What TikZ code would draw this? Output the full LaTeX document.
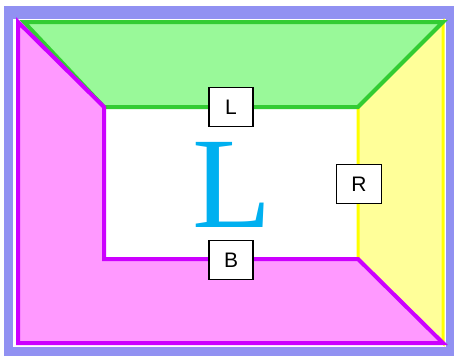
\documentclass[tikz,border=0pt]{standalone}
\usepackage{fontspec}
\setmainfont{Liberation Serif}
\newfontfamily\boxfont{Liberation Sans}
\usetikzlibrary{positioning}
\definecolor{frameblue}{RGB}{145,145,242}
\definecolor{topfill}{RGB}{153,249,153}
\definecolor{topline}{RGB}{51,204,51}
\definecolor{sidefill}{RGB}{255,153,255}
\definecolor{sideline}{RGB}{204,0,255}
\definecolor{rightfill}{RGB}{255,255,153}
\definecolor{rightline}{RGB}{255,255,0}
\definecolor{bigletter}{RGB}{0,176,240}

\begin{document}
\begin{tikzpicture}[
      x=1pt, y=-1pt, line join=miter,
      face/.style={line width=4pt},
      tag/.style={draw, line width=1.5pt, fill=white,
                  font=\boxfont\fontsize{21}{21}\selectfont,
                  minimum width=44pt, minimum height=39pt, inner sep=0pt},
    ]
    \useasboundingbox (0,0) rectangle (454,356);
    % frame
    \fill[white] (0,0) rectangle (454,356);
    \fill[frameblue] (4,6) rectangle (454,356);
    \fill[white] (13,19) rectangle (446,347);

    % corner points of the room
    \coordinate (otl) at (18,22);
    \coordinate (otr) at (443,22);
    \coordinate (obr) at (443,343);
    \coordinate (obl) at (18,343);
    \coordinate (itl) at (104,107);
    \coordinate (itr) at (358,107);
    \coordinate (ibr) at (358,259);
    \coordinate (ibl) at (104,259);

    % right wall
    \filldraw[face, line width=3pt, fill=rightfill, draw=rightline]
      (otr) -- (obr) -- (ibr) -- (itr) -- cycle;
    % ceiling
    \filldraw[face, fill=topfill, draw=topline]
      (24,22) -- (otr) -- (itr) -- (itl) -- cycle;
    % left wall and floor
    \filldraw[face, fill=sidefill, draw=sideline, miter limit=4]
      (otl) -- (itl) -- (ibl) -- (ibr) -- (obr) -- (obl) -- cycle;

    % labels
    \node[tag] (lbl) at (231,107) {L};
    \node[tag] (bbl) at (231,260) {B};
    \node[tag, minimum width=45pt] (rbl) at (359,184) {R};
    \node[bigletter, font=\fontsize{130}{130}\selectfont, inner sep=0pt,
          text height=87pt, text depth=0pt, anchor=base] (big) at (232,227) {L};
\end{tikzpicture}
\end{document}
